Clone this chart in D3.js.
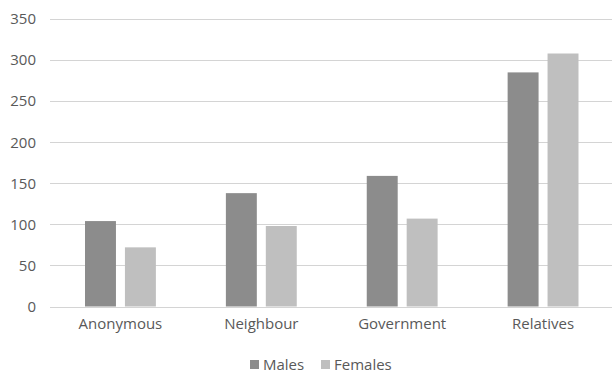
<!DOCTYPE html>
<html>
<head>
<meta charset="utf-8">
<script src="https://cdn.jsdelivr.net/npm/d3@7"></script>
<style>
  body { margin: 0; background: #fff; }
  text { font-family: "Open Sans", sans-serif; fill: #595959; }
</style>
</head>
<body>
<div id="chart"></div>
<script>
const categories = ["Anonymous", "Neighbour", "Government", "Relatives"];
const seriesNames = ["Males", "Females"];
const males = [104, 138, 159, 285];
const females = [72, 98, 107, 308];
const yTicks = [0, 50, 100, 150, 200, 250, 300, 350];
const colours = {"Males": "#8c8c8c", "Females": "#bfbfbf"};

const width = 612, height = 373;
const svg = d3.select("#chart").append("svg")
    .attr("width", width)
    .attr("height", height);

const x0 = d3.scaleBand().domain(categories).range([50, 613.5]).padding(0);
const x1 = d3.scaleBand().domain(seriesNames)
    .range([35, x0.bandwidth() - 35])
    .paddingInner(0.225);
const y = d3.scaleLinear().domain([0, 350]).range([306.5, 19]);

// gridlines
svg.append("g").selectAll("line")
    .data(yTicks)
    .join("line")
    .attr("x1", 50).attr("x2", width)
    .attr("y1", d => Math.round(y(d)) + 0.5)
    .attr("y2", d => Math.round(y(d)) + 0.5)
    .attr("stroke", "#d4d4d4")
    .attr("stroke-width", 1);

// y axis labels
const yAxis = svg.append("g")
    .attr("transform", "translate(36,0)")
    .call(d3.axisLeft(y).tickValues(yTicks).tickSize(0).tickPadding(0));
yAxis.select(".domain").remove();
yAxis.selectAll("text").style("font-size", "15px").attr("fill", "#595959");

// x axis labels
const xAxis = svg.append("g")
    .attr("transform", "translate(0,318)")
    .call(d3.axisBottom(x0).tickSize(0).tickPadding(0));
xAxis.select(".domain").remove();
xAxis.selectAll("text").style("font-size", "15px").attr("fill", "#595959");

// bars
const rows = categories.map((c, i) => ({
    name: c,
    values: [{key: "Males", value: males[i]}, {key: "Females", value: females[i]}]
}));

const groups = svg.append("g").selectAll("g")
    .data(rows)
    .join("g")
    .attr("transform", d => `translate(${x0(d.name)},0)`);

groups.selectAll("rect")
    .data(d => d.values)
    .join("rect")
    .attr("x", d => x1(d.key))
    .attr("width", x1.bandwidth())
    .attr("y", d => y(d.value))
    .attr("height", d => y(0) - y(d.value))
    .attr("fill", d => colours[d.key]);

// legend
const legendItems = [
    {key: "Males", x: 250},
    {key: "Females", x: 321}
];
const legend = svg.append("g");
const li = legend.selectAll("g")
    .data(legendItems)
    .join("g")
    .attr("transform", d => `translate(${d.x},360)`);
li.append("rect")
    .attr("width", 9).attr("height", 9)
    .attr("fill", d => colours[d.key]);
li.append("text")
    .attr("x", 13).attr("y", 9.5)
    .style("font-size", "15px")
    .text(d => d.key);
</script>
</body>
</html>
